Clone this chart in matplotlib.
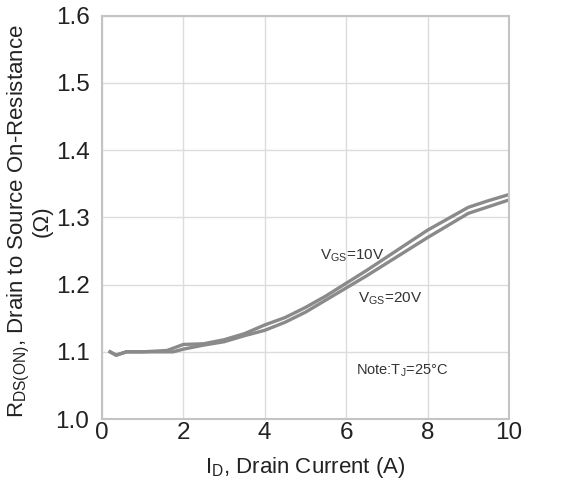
import matplotlib
matplotlib.use("Agg")
import matplotlib.pyplot as plt

plt.rcParams['font.family'] = ['Liberation Sans', 'DejaVu Sans']
plt.rcParams['mathtext.fontset'] = 'custom'
plt.rcParams['mathtext.rm'] = 'Liberation Sans'
plt.rcParams['mathtext.it'] = 'Liberation Sans'

# drain current (A) and on-resistance (ohm)
id_10v = [0.2, 0.35, 0.6, 1.0, 1.6, 2.0, 2.5, 3.0, 3.5, 4.0, 4.5, 5.0, 5.5, 6.0, 6.5, 7.0, 7.5, 8.0, 8.5, 9.0, 9.5, 10.0]
r_10v = [1.100, 1.095, 1.100, 1.100, 1.102, 1.111, 1.112, 1.118, 1.127, 1.140, 1.151, 1.166, 1.183, 1.202, 1.221, 1.241, 1.261, 1.281, 1.298, 1.315, 1.325, 1.334]

id_20v = [0.2, 0.35, 0.6, 1.0, 1.6, 1.75, 2.0, 2.5, 3.0, 3.5, 4.0, 4.5, 5.0, 5.5, 6.0, 6.5, 7.0, 7.5, 8.0, 8.5, 9.0, 9.5, 10.0]
r_20v = [1.100, 1.095, 1.100, 1.100, 1.100, 1.100, 1.104, 1.110, 1.115, 1.124, 1.132, 1.144, 1.159, 1.177, 1.195, 1.213, 1.232, 1.251, 1.270, 1.288, 1.306, 1.316, 1.326]

x_ticks = [0, 2, 4, 6, 8, 10]
y_ticks = [1.0, 1.1, 1.2, 1.3, 1.4, 1.5, 1.6]

fig = plt.figure(figsize=(5.63, 4.93), dpi=100)
ax = fig.add_axes([0.181, 0.150, 0.723, 0.818])

ax.plot(id_10v, r_10v, color='#8a8a8a', lw=2.4)
ax.plot(id_20v, r_20v, color='#8a8a8a', lw=2.4)

ax.set_xlim(0, 10)
ax.set_ylim(1.0, 1.6)
ax.set_xticks(x_ticks)
ax.set_yticks(y_ticks)
ax.set_xticklabels([str(t) for t in x_ticks])
ax.set_yticklabels([f"{t:.1f}" for t in y_ticks])
ax.tick_params(length=0, labelsize=17.5, colors='#222222')
ax.tick_params(axis='y', pad=9)
ax.tick_params(axis='x', pad=2)
ax.grid(True, color='#dcdcdc', lw=1)
for s in ax.spines.values():
    s.set_color('#c4c4c4')
    s.set_linewidth(1.5)

ax.text(5.35, 1.237, r'V$_{\mathrm{GS}}$=10V', fontsize=11, color='#333333')
ax.text(6.3, 1.174, r'V$_{\mathrm{GS}}$=20V', fontsize=11, color='#333333')
ax.text(6.25, 1.066, r'Note:T$_{\mathrm{J}}$=25°C', fontsize=10.5, color='#333333')

ax.set_xlabel(r'I$_{\mathrm{D}}$, Drain Current (A)', fontsize=16, labelpad=8, color='#222222')
ax.set_ylabel('R$_{\\mathrm{DS(ON)}}$, Drain to Source On-Resistance\n(Ω)', fontsize=16, color='#222222',
              linespacing=1.0)
ax.yaxis.set_label_coords(-0.12, 0.49)

fig.savefig('out.png', dpi=100)
